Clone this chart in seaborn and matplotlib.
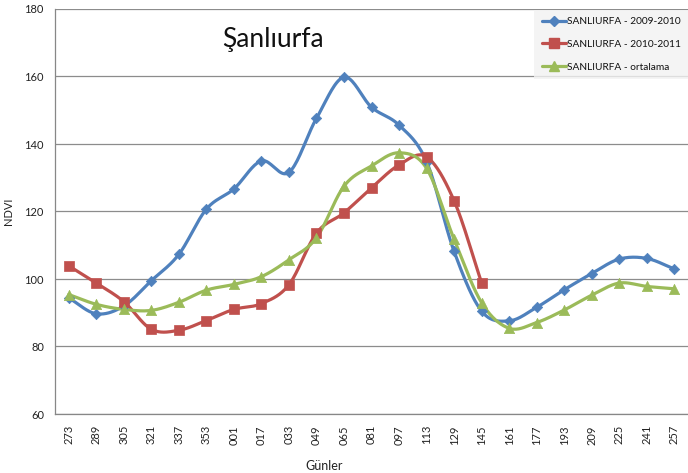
import numpy as np
import pandas as pd
import matplotlib
matplotlib.use("Agg")
import matplotlib.pyplot as plt
import seaborn as sns
from matplotlib.lines import Line2D

days = ["273", "289", "305", "321", "337", "353", "001", "017", "033", "049", "065", "081",
        "097", "113", "129", "145", "161", "177", "193", "209", "225", "241", "257"]
s2009 = [94.4, 89.7, 92.0, 99.5, 107.3, 120.7, 126.7, 135.0, 131.6, 147.6, 159.8, 150.9,
         145.6, 134.8, 108.2, 90.5, 87.6, 91.6, 96.8, 101.6, 105.9, 106.1, 103.0]
s2010 = [103.9, 98.8, 93.3, 85.1, 84.8, 87.7, 91.0, 92.7, 98.3, 113.6, 119.6, 127.0,
         133.8, 136.2, 123.2, 98.9] + [np.nan] * 7
s_avg = [95.4, 92.5, 91.0, 90.7, 93.1, 96.7, 98.4, 100.7, 105.7, 112.2, 127.5, 133.5,
         137.4, 132.8, 111.8, 93.0, 85.4, 87.1, 90.8, 95.2, 98.8, 97.8, 97.1]
labels = ["SANLIURFA - 2009-2010", "SANLIURFA - 2010-2011", "SANLIURFA - ortalama"]
colors = ["#4F81BD", "#C0504D", "#9BBB59"]
markers = ["D", "s", "^"]
msizes = [28, 60, 55]

FONT = ["Lato", "DejaVu Sans"]
sns.set_theme(style="white")
plt.rcParams["font.family"] = FONT


def catmull(xs, ys, n=20):
    pts = [(x, y) for x, y in zip(xs, ys) if not np.isnan(y)]
    P = np.array(pts)
    if len(P) < 2:
        return P[:, 0], P[:, 1]
    ext = np.vstack([2 * P[0] - P[1], P, 2 * P[-1] - P[-2]])
    out = []
    t = np.linspace(0, 1, n, endpoint=False)
    for i in range(1, len(ext) - 2):
        p0, p1, p2, p3 = ext[i - 1], ext[i], ext[i + 1], ext[i + 2]
        for tt in t:
            t2, t3 = tt * tt, tt * tt * tt
            pt = 0.5 * ((2 * p1) + (-p0 + p2) * tt + (2 * p0 - 5 * p1 + 4 * p2 - p3) * t2
                        + (-p0 + 3 * p1 - 3 * p2 + p3) * t3)
            out.append(pt)
    out.append(P[-1])
    out = np.array(out)
    return out[:, 0], out[:, 1]


fig = plt.figure(figsize=(6.88, 4.73), dpi=100)
ax = fig.add_axes([55 / 688, 1 - 414 / 473, 1 - 55 / 688, (414 - 9) / 473])

xs = np.arange(len(days))
series = [s2009, s2010, s_avg]
for vals, lab, col, mk, ms in zip(series, labels, colors, markers, msizes):
    sx, sy = catmull(xs, np.array(vals, dtype=float))
    sdf = pd.DataFrame({"x": sx, "y": sy})
    sns.lineplot(data=sdf, x="x", y="y", ax=ax, color=col, linewidth=2.3, sort=False,
                 estimator=None, legend=False, zorder=3)
    pdf = pd.DataFrame({"x": xs, "y": vals}).dropna()
    sns.scatterplot(data=pdf, x="x", y="y", ax=ax, color=col, marker=mk, s=ms,
                    edgecolor=col, linewidth=0.5, legend=False, zorder=4)

ax.set_xlim(-0.5, len(days) - 0.5)
ax.set_ylim(60, 180)
ax.set_yticks(np.arange(60, 181, 20))
ax.set_xticks(xs)
ax.set_xticklabels(days, rotation=90, fontsize=8, color="#222222")
ax.set_xticks(np.arange(-0.5, len(days), 1), minor=True)
ax.tick_params(axis="x", which="major", length=0, pad=8)
ax.tick_params(axis="x", which="minor", length=5, width=0.8, color="#878787", direction="out")
ax.tick_params(axis="y", which="major", length=5, width=0.8, color="#878787", direction="out",
               labelsize=8, labelcolor="#222222", pad=3)
ax.yaxis.grid(True, color="#8c8c8c", linewidth=0.9)
ax.set_axisbelow(True)
for side in ["top", "right"]:
    ax.spines[side].set_visible(False)
for side in ["left", "bottom"]:
    ax.spines[side].set_color("#878787")
    ax.spines[side].set_linewidth(0.9)

ax.set_xlabel("Günler", fontsize=9, color="#222222")
ax.xaxis.set_label_coords((324 - 55) / (688 - 55), -(458 - 414) / (414 - 9) - 0.005)
ax.set_ylabel("NDVI", fontsize=8, color="#222222")
ax.yaxis.set_label_coords(-(55 - 14) / (688 - 55), 0.5)

ax.text(222 / 688, 1 - 40 / 473, "Şanlıurfa", transform=fig.transFigure, fontsize=19,
        color="#111111", va="center", ha="left")

handles = [Line2D([0], [0], color=c, lw=2.3, marker=m, markersize=s, markeredgecolor=c)
           for c, m, s in zip(colors, markers, [5, 7, 7])]
leg = fig.legend(handles, labels, loc="upper right", bbox_to_anchor=(1.0, 1 - 10 / 473),
                 fontsize=7.3, frameon=True, borderaxespad=0, handlelength=2.4,
                 handletextpad=0.1, labelspacing=1.35, borderpad=0.7, fancybox=False)
leg.get_frame().set_facecolor("#f2f2f2")
leg.get_frame().set_edgecolor("#f2f2f2")
leg.get_frame().set_linewidth(0)
for t in leg.get_texts():
    t.set_color("#111111")

fig.savefig("out.png", dpi=100, facecolor="white")
